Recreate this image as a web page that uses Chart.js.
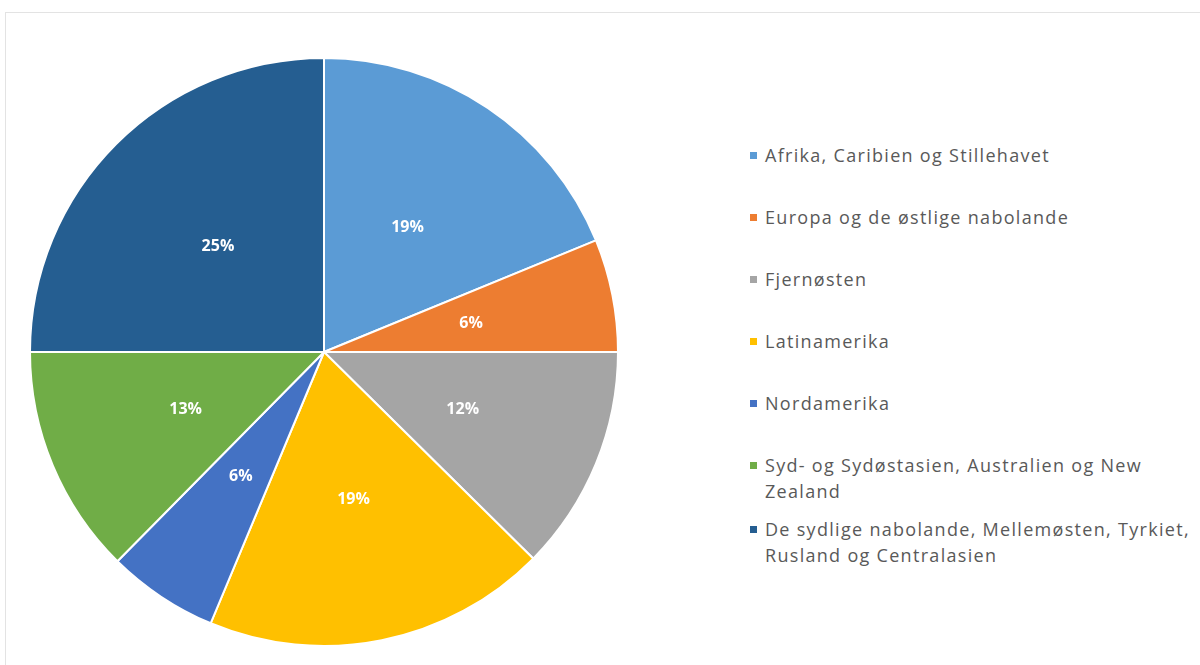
<!DOCTYPE html>
<html>
<head>
<meta charset="utf-8">
<script src="https://cdn.jsdelivr.net/npm/chart.js@4/dist/chart.umd.min.js"></script>
<style>
  html, body { margin: 0; padding: 0; background: #fff; }
  body { width: 1200px; height: 665px; position: relative; overflow: hidden; font-family: "Open Sans", sans-serif; }
  .frame { position: absolute; left: 5px; top: 12px; width: 1300px; height: 700px; border: 1px solid #e3e3e3; }
  .pie-box { position: absolute; left: 29px; top: 57px; width: 590px; height: 590px; }
  #legend { position: absolute; left: 750px; top: 142px; list-style: none; margin: 0; padding: 0; color: #595959; font-size: 18px; letter-spacing: 1.3px; line-height: 26px; }
  #legend li { position: relative; padding-left: 15px; margin-bottom: 36px; white-space: nowrap; }
  #legend li.tight { margin-bottom: 12px; }
  #legend li span.sw { position: absolute; left: 0; top: 10px; width: 7px; height: 7px; }
</style>
</head>
<body>
<div class="frame"></div>
<div class="pie-box"><canvas id="pie"></canvas></div>
<ul id="legend"></ul>
<script>
// Regions (legend order) and their share.
const regions = [
  "Afrika, Caribien og Stillehavet",
  "Europa og de østlige nabolande",
  "Fjernøsten",
  "Latinamerika",
  "Nordamerika",
  ["Syd- og Sydøstasien, Australien og New", "Zealand"],
  ["De sydlige nabolande, Mellemøsten, Tyrkiet,", "Rusland og Centralasien"],
];
const shares = [18.8, 6.2, 12.4, 18.9, 6.1, 12.6, 25.0];
const sliceColors = ["#5b9bd5", "#ed7d31", "#a5a5a5", "#ffc000", "#4472c4", "#70ad47", "#255e91"];

// White percentage labels at roughly half the radius, like Excel's defaults.
const pctLabels = {
  id: "pctLabels",
  afterDatasetsDraw(chart) {
    const { ctx } = chart;
    const meta = chart.getDatasetMeta(0);
    const data = chart.data.datasets[0].data;
    const total = data.reduce((a, b) => a + b, 0);
    ctx.save();
    ctx.fillStyle = "#ffffff";
    ctx.font = "bold 16px 'Open Sans', sans-serif";
    ctx.textAlign = "center";
    ctx.textBaseline = "middle";
    meta.data.forEach((arc, i) => {
      const { x, y, startAngle, endAngle, outerRadius } = arc.getProps(
        ["x", "y", "startAngle", "endAngle", "outerRadius"], true);
      const mid = (startAngle + endAngle) / 2;
      const r = outerRadius * 0.51;
      ctx.fillText(`${Math.round((data[i] / total) * 100)}%`, x + Math.cos(mid) * r, y + Math.sin(mid) * r);
    });
    ctx.restore();
  },
};

const chart = new Chart(document.getElementById("pie"), {
  type: "pie",
  data: {
    labels: regions,
    datasets: [{
      data: shares,
      backgroundColor: sliceColors,
      borderColor: "#ffffff",
      borderWidth: 2,
    }],
  },
  options: {
    responsive: true,
    maintainAspectRatio: false,
    animation: false,
    layout: { padding: 0 },
    plugins: { legend: { display: false }, tooltip: { enabled: false } },
  },
  plugins: [pctLabels],
});

// HTML legend so the long names can wrap onto two lines.
const legendEl = document.getElementById("legend");
chart.data.labels.forEach((label, i) => {
  const li = document.createElement("li");
  if (i === 5) li.className = "tight";
  const sw = document.createElement("span");
  sw.className = "sw";
  sw.style.background = sliceColors[i];
  li.appendChild(sw);
  const lines = Array.isArray(label) ? label : [label];
  lines.forEach((line, k) => {
    if (k) li.appendChild(document.createElement("br"));
    li.appendChild(document.createTextNode(line));
  });
  legendEl.appendChild(li);
});
</script>
</body>
</html>
